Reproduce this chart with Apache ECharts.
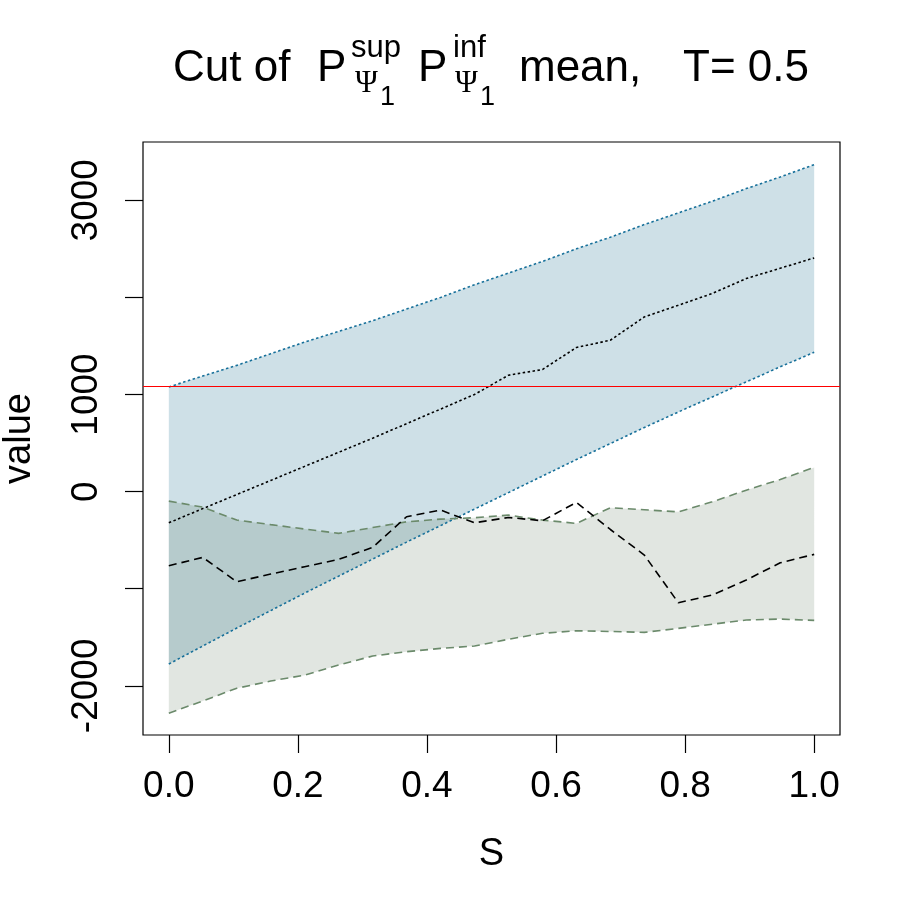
<!DOCTYPE html>
<html>
<head>
<meta charset="utf-8">
<script src="https://cdn.jsdelivr.net/npm/echarts@6/dist/echarts.min.js"></script>
<style>
html,body{margin:0;padding:0;background:#fff;}
#chart{width:913px;height:913px;}
</style>
</head>
<body>
<div id="chart"></div>
<script>
// ---- data ----
const S = [0, 0.0526, 0.1053, 0.1579, 0.2105, 0.2632, 0.3158, 0.3684, 0.4211, 0.4737,
           0.5263, 0.5789, 0.6316, 0.6842, 0.7368, 0.7895, 0.8421, 0.8947, 0.9474, 1.0];

// P_sup band (blue) : upper, lower and mean (dotted)
const supUpper = [1078, 1190, 1300, 1420, 1540, 1650, 1760, 1880, 2000, 2130,
                  2250, 2370, 2500, 2620, 2750, 2870, 2990, 3120, 3240, 3367];
const supLower = [-1775, -1590, -1405, -1225, -1045, -870, -695, -520, -350, -180,
                  -10, 160, 330, 495, 660, 820, 975, 1130, 1285, 1435];
const supMean  = [-321, -175, -30, 115, 260, 405, 550, 700, 850, 1000,
                  1199, 1257, 1484, 1559, 1799, 1919, 2040, 2194, 2300, 2406];

// P_inf band (green) : upper, lower and mean (dashed)
const infUpper = [-98, -160, -293, -340, -385, -430, -370, -311, -283, -269,
                  -242, -293, -327, -166, -187, -208, -105, 15, 125, 249];
const infLower = [-2283, -2155, -2025, -1950, -1890, -1785, -1693, -1648, -1614, -1590,
                  -1520, -1459, -1432, -1440, -1449, -1408, -1365, -1322, -1312, -1326];
const infMean  = [-763, -677, -928, -849, -773, -698, -574, -259, -190, -321,
                  -266, -300, -111, -390, -653, -1144, -1065, -910, -733, -646];

const refLine = 1085;

const xTicks = [0, 0.2, 0.4, 0.6, 0.8, 1.0];
const yTicks = [-2000, -1000, 0, 1000, 2000, 3000];
const yTickLabels = [-2000, 0, 1000, 3000];

// ---- chart ----
const FONT = '"Liberation Sans", Arial, Helvetica, sans-serif';
const chart = echarts.init(document.getElementById('chart'), null, {renderer: 'canvas'});

function pairs(xs, ys) { return xs.map((x, i) => [x, ys[i]]); }

function bandSeries(upper, lower, fill, z) {
  return {
    type: 'custom',
    z: z,
    silent: true,
    data: [[0, 0]],
    renderItem: function (params, api) {
      const pts = [];
      for (let i = 0; i < S.length; i++) pts.push(api.coord([S[i], upper[i]]));
      for (let i = S.length - 1; i >= 0; i--) pts.push(api.coord([S[i], lower[i]]));
      return {type: 'polygon', shape: {points: pts}, style: {fill: fill, stroke: null}};
    }
  };
}

function lineSeries(ys, color, dash, z) {
  return {
    type: 'line', z: z, silent: true, symbol: 'none', smooth: false,
    data: pairs(S, ys),
    lineStyle: {color: color, width: 1.6, type: dash}
  };
}

const mainFont = '44px ' + FONT;
const supFont = '31px ' + FONT;
const subFont = '31px "Liberation Serif", "DejaVu Serif", serif';
const oneFont = '27px ' + FONT;
function txt(t, x, y, font) {
  return {type: 'text', x: x, y: y, silent: true,
          style: {text: t, font: font, fill: '#000', align: 'left', verticalAlign: 'middle'}};
}

const option = {
  backgroundColor: '#fff',
  animation: false,
  grid: {left: 143, right: 73, top: 142, bottom: 178, show: true,
         containLabel: false, outerBoundsMode: 'none',
         borderColor: '#000', borderWidth: 1.2, backgroundColor: 'transparent'},
  xAxis: {
    type: 'value', min: -0.04, max: 1.04, position: 'bottom',
    name: 'S', nameLocation: 'middle', nameGap: 101,
    nameTextStyle: {fontSize: 38, fontFamily: FONT, color: '#000'},
    axisLine: {show: false, onZero: false},
    splitLine: {show: false},
    axisTick: {show: true, inside: false, length: 18, customValues: xTicks,
               lineStyle: {color: '#000', width: 1.2}},
    axisLabel: {show: true, customValues: xTicks, margin: 33, fontSize: 37, fontFamily: FONT, color: '#000',
                formatter: v => Number(v).toFixed(1)}
  },
  yAxis: {
    type: 'value', min: -2506, max: 3600, position: 'left',
    name: 'value', nameLocation: 'middle', nameGap: 104, nameRotate: 90,
    nameTextStyle: {fontSize: 38, fontFamily: FONT, color: '#000'},
    axisLine: {show: false, onZero: false},
    splitLine: {show: false},
    axisTick: {show: true, inside: false, length: 18, customValues: yTicks,
               lineStyle: {color: '#000', width: 1.2}},
    axisLabel: {show: true, customValues: yTickLabels, rotate: 90, margin: 38,
                fontSize: 37, fontFamily: FONT, color: '#000',
                formatter: v => String(v)}
  },
  graphic: [
    txt('Cut of', 173, 69, mainFont),
    txt('P', 317, 69, mainFont),
    txt('sup', 351, 48, supFont),
    txt('\u03A8', 355, 84, subFont),
    txt('1', 380, 98, oneFont),
    txt('P', 418, 69, mainFont),
    txt('inf', 453, 48, supFont),
    txt('\u03A8', 455, 84, subFont),
    txt('1', 480, 98, oneFont),
    txt('mean,', 519, 69, mainFont),
    txt('T= 0.5', 683, 69, mainFont)
  ],
  series: [
    bandSeries(supUpper, supLower, 'rgb(206,224,231)', 1),
    bandSeries(infUpper, infLower, 'rgba(20,60,20,0.13)', 2),
    lineSeries(supUpper, '#17709a', [2.5, 2.5], 3),
    lineSeries(supLower, '#17709a', [2.5, 2.5], 3),
    lineSeries(supMean, '#000', [2.5, 2.5], 4),
    lineSeries(infUpper, '#6b8a6b', [8, 5], 3),
    lineSeries(infLower, '#6b8a6b', [8, 5], 3),
    Object.assign(lineSeries(infMean, '#000', [8, 5], 4), {
      markLine: {
        silent: true, symbol: ['none', 'none'], animation: false,
        label: {show: false},
        lineStyle: {color: '#ff0000', width: 1.2, type: 'solid'},
        data: [{yAxis: refLine}]
      }
    })
  ]
};
chart.setOption(option);
</script>
</body>
</html>
